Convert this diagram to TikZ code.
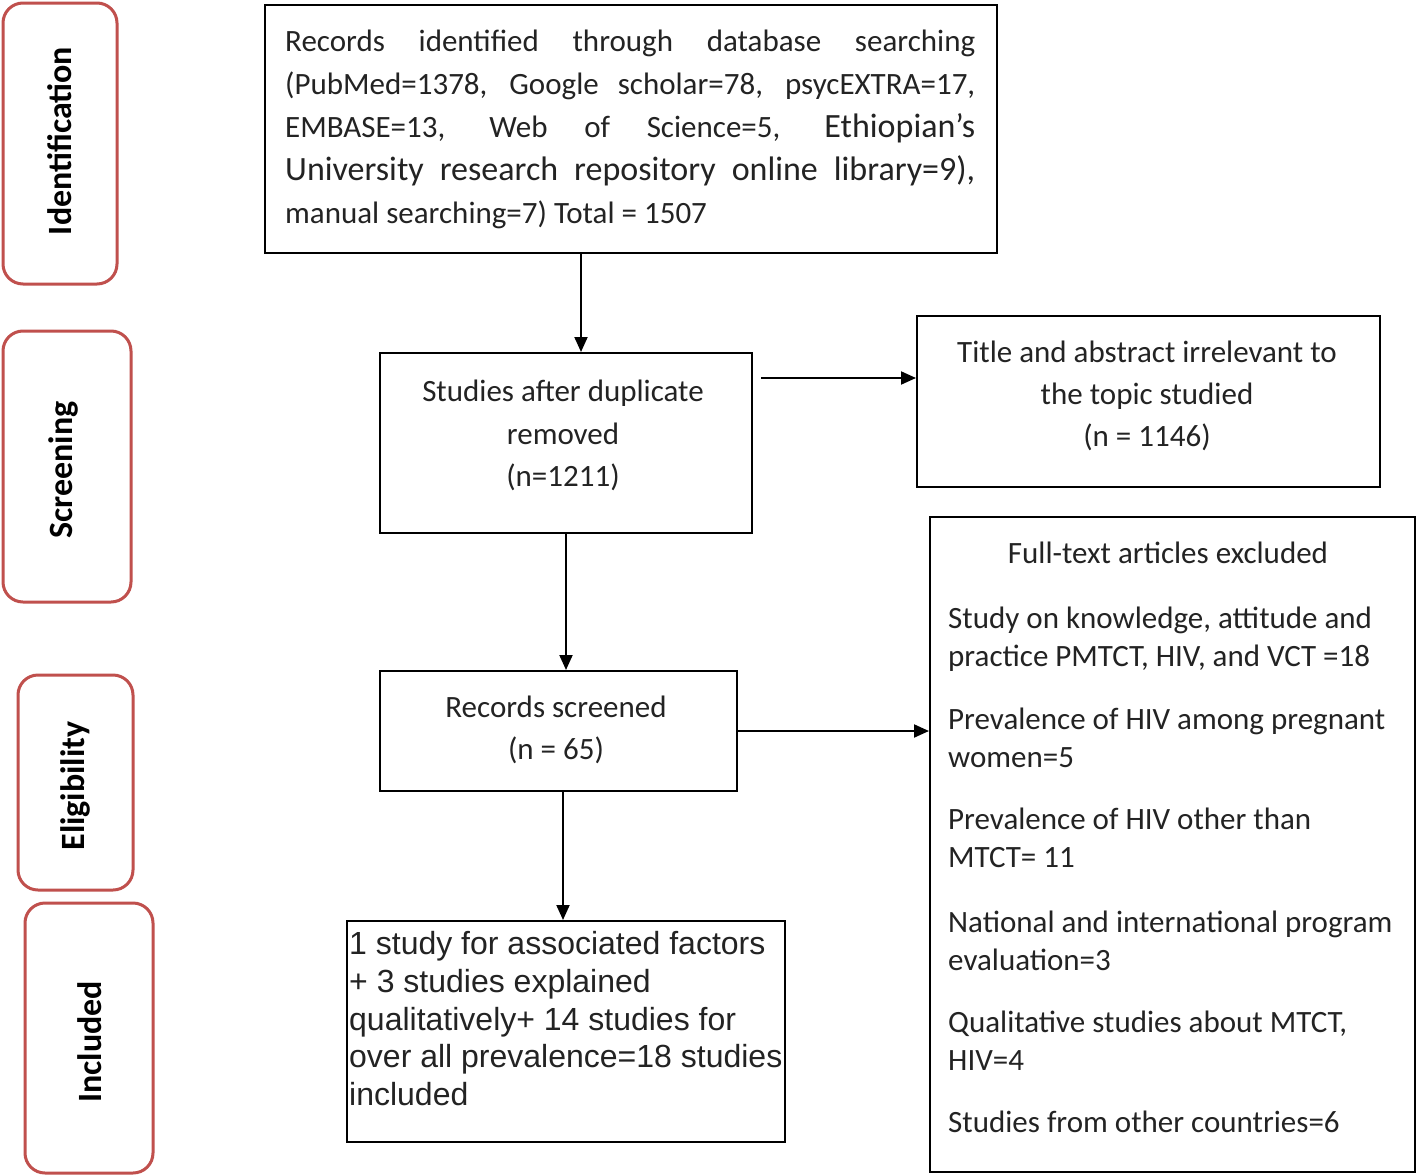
\documentclass[tikz,border=0pt]{standalone}
\usepackage{fontspec}
\setmainfont{Carlito}
\newfontfamily\arialf{Liberation Sans}
\usetikzlibrary{arrows.meta}
\definecolor{sred}{RGB}{192,80,77}
\definecolor{ink}{RGB}{35,35,35}
\newcommand\bigf{\fontsize{34}{43}\selectfont}
\begin{document}
\begin{tikzpicture}[x=1pt,y=-1pt,
  box/.style={draw=black, line width=2pt, inner sep=0pt, rectangle},
  side/.style={draw=sred, line width=3pt, rounded corners=20pt, inner sep=0pt},
  sidelbl/.style={rotate=90, font=\fontsize{34}{40}\selectfont\bfseries, inner sep=0pt, text=black},
  txt/.style={inner sep=0pt, font=\fontsize{31}{43}\selectfont, text=ink},
  arr/.style={line width=2pt, -{Triangle[length=15pt,width=13pt]}}]
\useasboundingbox (0,0) rectangle (1418,1175);
\fill[white] (0,0) rectangle (1418,1175);
% side stage boxes
\node[side, minimum width=114pt, minimum height=281pt] (s1) at (60,143.5) {};
\node[side, minimum width=128pt, minimum height=271pt] (s2) at (67,466.5) {};
\node[side, minimum width=115pt, minimum height=215pt] (s3) at (75.5,782.5) {};
\node[side, minimum width=128pt, minimum height=270pt] (s4) at (89,1038) {};
\node[sidelbl] (l1) at (60,141) {Identification};
\node[sidelbl] (l2) at (63,470) {Screening};
\node[sidelbl] (l3) at (75,786) {Eligibility};
\node[sidelbl] (l4) at (90,1042) {Included};
% main boxes
\node[box, minimum width=732pt, minimum height=248pt] (A) at (631,129) {};
\node[box, minimum width=372pt, minimum height=180pt] (B) at (566,443) {};
\node[box, minimum width=463pt, minimum height=171pt] (C) at (1148.5,401.5) {};
\node[box, minimum width=357pt, minimum height=120pt] (D) at (558.5,731) {};
\node[box, minimum width=485pt, minimum height=655pt] (E) at (1172.5,844.5) {};
\node[box, minimum width=438pt, minimum height=221pt] (F) at (566,1031.5) {};
% texts
\node[txt, anchor=north west, align=left] (tA) at (285,30) {%
\makebox[690pt][s]{Records identified through database searching}\\
\makebox[690pt][s]{(PubMed=1378, Google scholar=78, psycEXTRA=17,}\\
\makebox[690pt][s]{EMBASE=13, Web of Science=5, {\bigf Ethiopian’s}}\\
\makebox[690pt][s]{\bigf University research repository online library=9),}\\
manual searching=7) Total = 1507};
\node[txt, anchor=north, align=center, font=\fontsize{31}{42.5}\selectfont] (tB) at (563,380)
  {Studies after duplicate\\removed\\(n=1211)};
\node[txt, anchor=north, align=center, font=\fontsize{31}{42}\selectfont] (tC) at (1147,341)
  {Title and abstract irrelevant to\\the topic studied\\(n = 1146)};
\node[txt, anchor=north, align=center, font=\fontsize{31}{42}\selectfont] (tD) at (556,696)
  {Records screened\\(n = 65)};
\node[txt, anchor=north] (tE0) at (1168,542) {Full-text articles excluded};
\node[txt, anchor=north west, align=left, font=\fontsize{31}{38}\selectfont] (tE) at (948,607) {%
Study on knowledge, attitude and\\practice PMTCT, HIV, and VCT =18\\[25pt]
Prevalence of HIV among pregnant\\women=5\\[24pt]
Prevalence of HIV other than\\MTCT= 11\\[27pt]
National and international program\\evaluation=3\\[24pt]
Qualitative studies about MTCT,\\HIV=4\\[24pt]
Studies from other countries=6};
\node[txt, anchor=north west, align=left, font=\arialf\fontsize{32}{37.8}\selectfont] (tF) at (349,931) {%
1 study for associated factors\\
+ 3 studies explained\\
qualitatively+ 14 studies for\\
over all prevalence=18 studies\\
included};
% connectors
\coordinate (xab) at (581,0);
\draw[arr] (xab |- A.south) -- (xab |- B.north);
\coordinate (ybc) at (0,378);
\draw[arr] (ybc -| B.east) ++(8,0) -- (ybc -| C.west);
\draw[arr] (B.south) -- (B.south |- D.north);
\draw[arr] (D.east) -- (D.east -| E.west);
\coordinate (xdf) at (563,0);
\draw[arr] (xdf |- D.south) -- (xdf |- F.north);
\end{tikzpicture}
\end{document}
